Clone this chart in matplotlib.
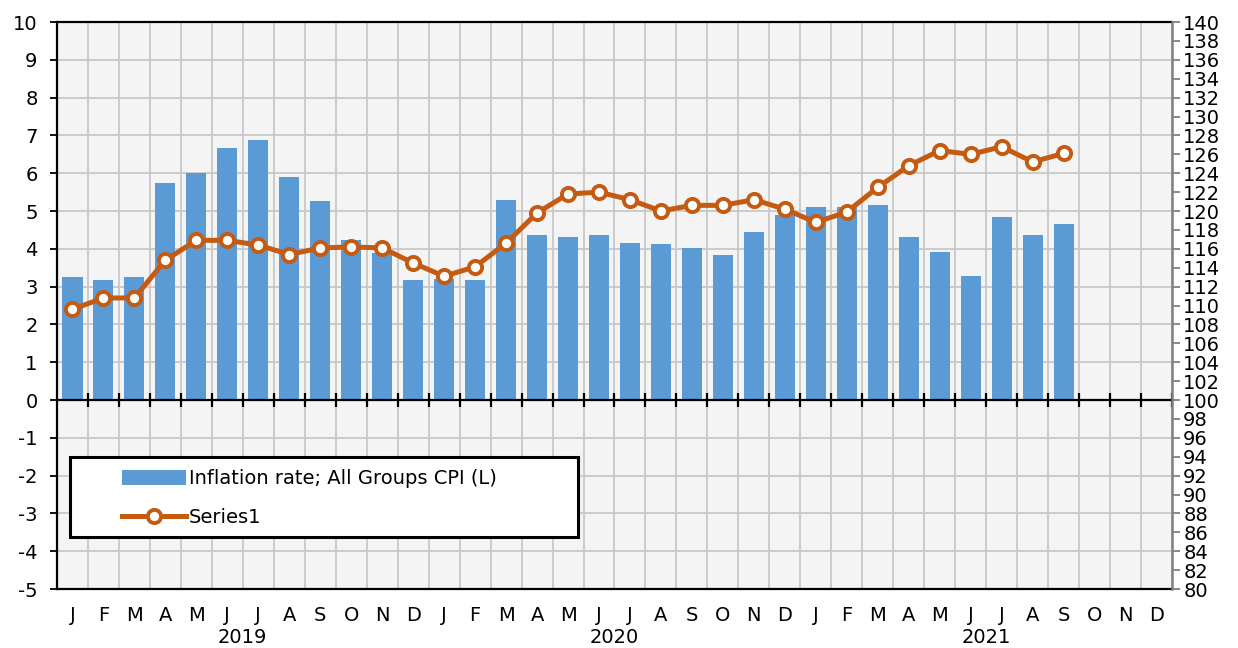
import matplotlib
matplotlib.use("Agg")
import matplotlib.pyplot as plt
from matplotlib.patches import Rectangle, Patch
from matplotlib.lines import Line2D
import numpy as np

plt.rcParams['font.family'] = ['DejaVu Sans']
plt.rcParams['axes.unicode_minus'] = False

month_labels = ["J", "F", "M", "A", "M", "J", "J", "A", "S", "O", "N", "D"] * 3
years = ["2019", "2020", "2021"]

inflation = [3.25, 3.17, 3.25, 5.75, 6.00, 6.67, 6.88, 5.89, 5.26, 4.23, 3.88, 3.17,
             3.20, 3.17, 5.29, 4.37, 4.30, 4.37, 4.16, 4.13, 4.02, 3.84, 4.44, 4.89,
             5.11, 5.10, 5.15, 4.30, 3.92, 3.28, 4.83, 4.37, 4.66]
series1 = [109.6, 110.8, 110.8, 114.8, 116.9, 116.9, 116.4, 115.4, 116.1, 116.2, 116.1, 114.5,
           113.1, 114.1, 116.6, 119.8, 121.8, 122.0, 121.2, 120.0, 120.6, 120.6, 121.2, 120.2,
           118.8, 119.9, 122.5, 124.8, 126.4, 126.0, 126.8, 125.2, 126.1]

bar_label = "Inflation rate; All Groups CPI (L)"
line_label = "Series1"

bar_color = "#5b9bd5"
line_color = "#c55a11"
grid_color = "#c8c8c8"
FS = 14

fig = plt.figure(figsize=(12.38, 6.48), dpi=100)
ax = fig.add_axes([0.046, 0.091, 0.9007, 0.875])
ax.set_facecolor("#f4f4f4")

n = len(month_labels)
x_all = np.arange(n)
ax.set_xlim(-0.5, n - 0.5)
ax.set_ylim(-5, 10)

# grid
ax.set_yticks(np.arange(-5, 11, 1))
ax.set_xticks(x_all + 0.5, minor=True)
ax.grid(True, which='minor', axis='x', color=grid_color, lw=1.3, zorder=0)
ax.grid(True, which='major', axis='y', color=grid_color, lw=1.3, zorder=0)
ax.set_axisbelow(True)

# bars
xb = np.arange(len(inflation))
ax.bar(xb, inflation, width=0.65, color=bar_color, zorder=2)

# zero line with crossing ticks
ax.axhline(0, color='black', lw=1.6, zorder=2.5)
bounds = np.arange(0.5, n, 1.0)
ax.plot(bounds, np.zeros_like(bounds), ls='none', marker='|', markersize=10,
        markeredgewidth=1.6, color='black', zorder=2.5)

# month labels
ax.set_xticks(x_all)
ax.set_xticklabels(month_labels, fontsize=FS)
ax.tick_params(axis='x', which='both', length=0, pad=12.5)
ax.tick_params(axis='y', which='major', direction='out', length=5, width=1.3,
               labelsize=FS, pad=9, color='black')

for s in ['left', 'top', 'bottom']:
    ax.spines[s].set_color('black')
    ax.spines[s].set_linewidth(1.6)
ax.spines['right'].set_visible(False)

# year labels
yax = ax.secondary_xaxis('bottom')
yax.set_xticks([5.5, 17.5, 29.5])
yax.set_xticklabels(years, fontsize=FS)
yax.tick_params(axis='x', length=0, pad=28)
yax.spines['bottom'].set_visible(False)

# right axis
ax2 = ax.twinx()
ax2.set_ylim(80, 140)
ax2.set_yticks(np.arange(80, 141, 2))
ax2.tick_params(axis='y', direction='out', length=6, width=1.3, color='#808080',
                labelsize=FS, pad=2)
for s in ['left', 'top', 'bottom']:
    ax2.spines[s].set_visible(False)
ax2.spines['right'].set_color('#808080')
ax2.spines['right'].set_linewidth(1.8)

xl = np.arange(len(series1))
ax2.plot(xl, series1, color=line_color, lw=3.6, marker='o', markersize=9.5,
         markerfacecolor='white', markeredgecolor=line_color, markeredgewidth=2.8,
         zorder=3)

# legend frame
frame = Rectangle((0.0117, 0.0917), 0.4556, 0.1411, transform=ax.transAxes,
                  facecolor='white', edgecolor='black', lw=2.2, zorder=4)
ax2.add_patch(frame)
handles = [Patch(facecolor=bar_color, edgecolor='none'),
           Line2D([0], [0], color=line_color, lw=3.6, marker='o', markersize=9.5,
                  markerfacecolor='white', markeredgecolor=line_color,
                  markeredgewidth=2.8)]
leg = ax2.legend(handles, [bar_label, line_label], loc='upper left',
                 bbox_to_anchor=(0.0583, 0.211), bbox_transform=ax.transAxes,
                 frameon=False, fontsize=FS, handlelength=3.3, handleheight=0.8,
                 handletextpad=0.15, labelspacing=1.0, borderpad=0.0,
                 borderaxespad=0.0)
leg.set_zorder(5)

fig.savefig("out.png", dpi=100)
